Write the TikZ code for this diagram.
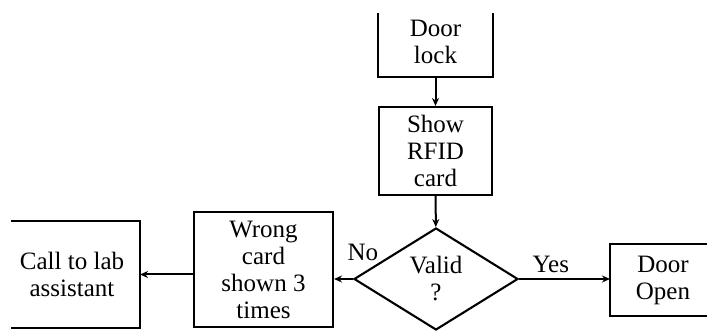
\documentclass[tikz,border=0pt]{standalone}
\usepackage{fontspec}
\setmainfont{Liberation Serif}
\usetikzlibrary{shapes.geometric,arrows.meta}
\tikzset{
  box/.style={draw,line width=2.1pt,align=center,inner sep=0pt},
  cutbox/.style={box,draw=none},
  edge/.style={line width=2.1pt},
  decision/.style={draw,diamond,line width=2.1pt,align=center,inner sep=0pt,
    minimum width=164pt,minimum height=102pt},
  flow/.style={line width=2pt,-{Stealth[length=8pt,width=7pt]}}
}
\begin{document}
\begin{tikzpicture}[x=1pt,y=1pt,font=\fontsize{25}{27}\selectfont]
\useasboundingbox (0,0) rectangle (707,331);
% where the figure is cut off
\coordinate (top) at (0,318);
\coordinate (left) at (11,0);
\coordinate (right) at (712,0);

\node[cutbox,minimum width=113pt,minimum height=68pt] (lock) at (435.5,289) {Door\\lock};
\node[box,minimum width=113pt,minimum height=88pt] (show) at (435.5,180) {Show\\RFID\\card};
\node[decision] (valid) at (436,52) {Valid\\?};
\node[box,minimum width=139pt,minimum height=115pt] (wrong) at (263.5,61.5) {Wrong\\card\\shown 3\\times};
\node[cutbox,minimum width=134pt,minimum height=105pt] (call) at (72,56.5) {Call to lab\\assistant};
\node[cutbox,minimum width=104pt,minimum height=70pt] (open) at (663,51) {Door\\Open};

\draw[edge] (lock.west |- top) -- (lock.south west) -- (lock.south east) -- (lock.east |- top);
\draw[edge] (left |- call.north) -- (call.north east) -- (call.south east) -- (left |- call.south);
\draw[edge] (right |- open.north) -- (open.north west) -- (open.south west) -- (right |- open.south);

\draw[flow] (lock) -- (show);
\draw[flow] (show) -- (valid);
\draw[flow] (valid.east) -- node[pos=.35,above=2pt] (yes) {Yes} (valid.east -| open.west);
\draw[flow] (valid.west) -- (valid.west -| wrong.east);
\node (no) at ([xshift=10pt,yshift=27pt]valid.west) {No};
\draw[flow] (call.east -| wrong.west) -- (call.east);
\end{tikzpicture}
\end{document}
